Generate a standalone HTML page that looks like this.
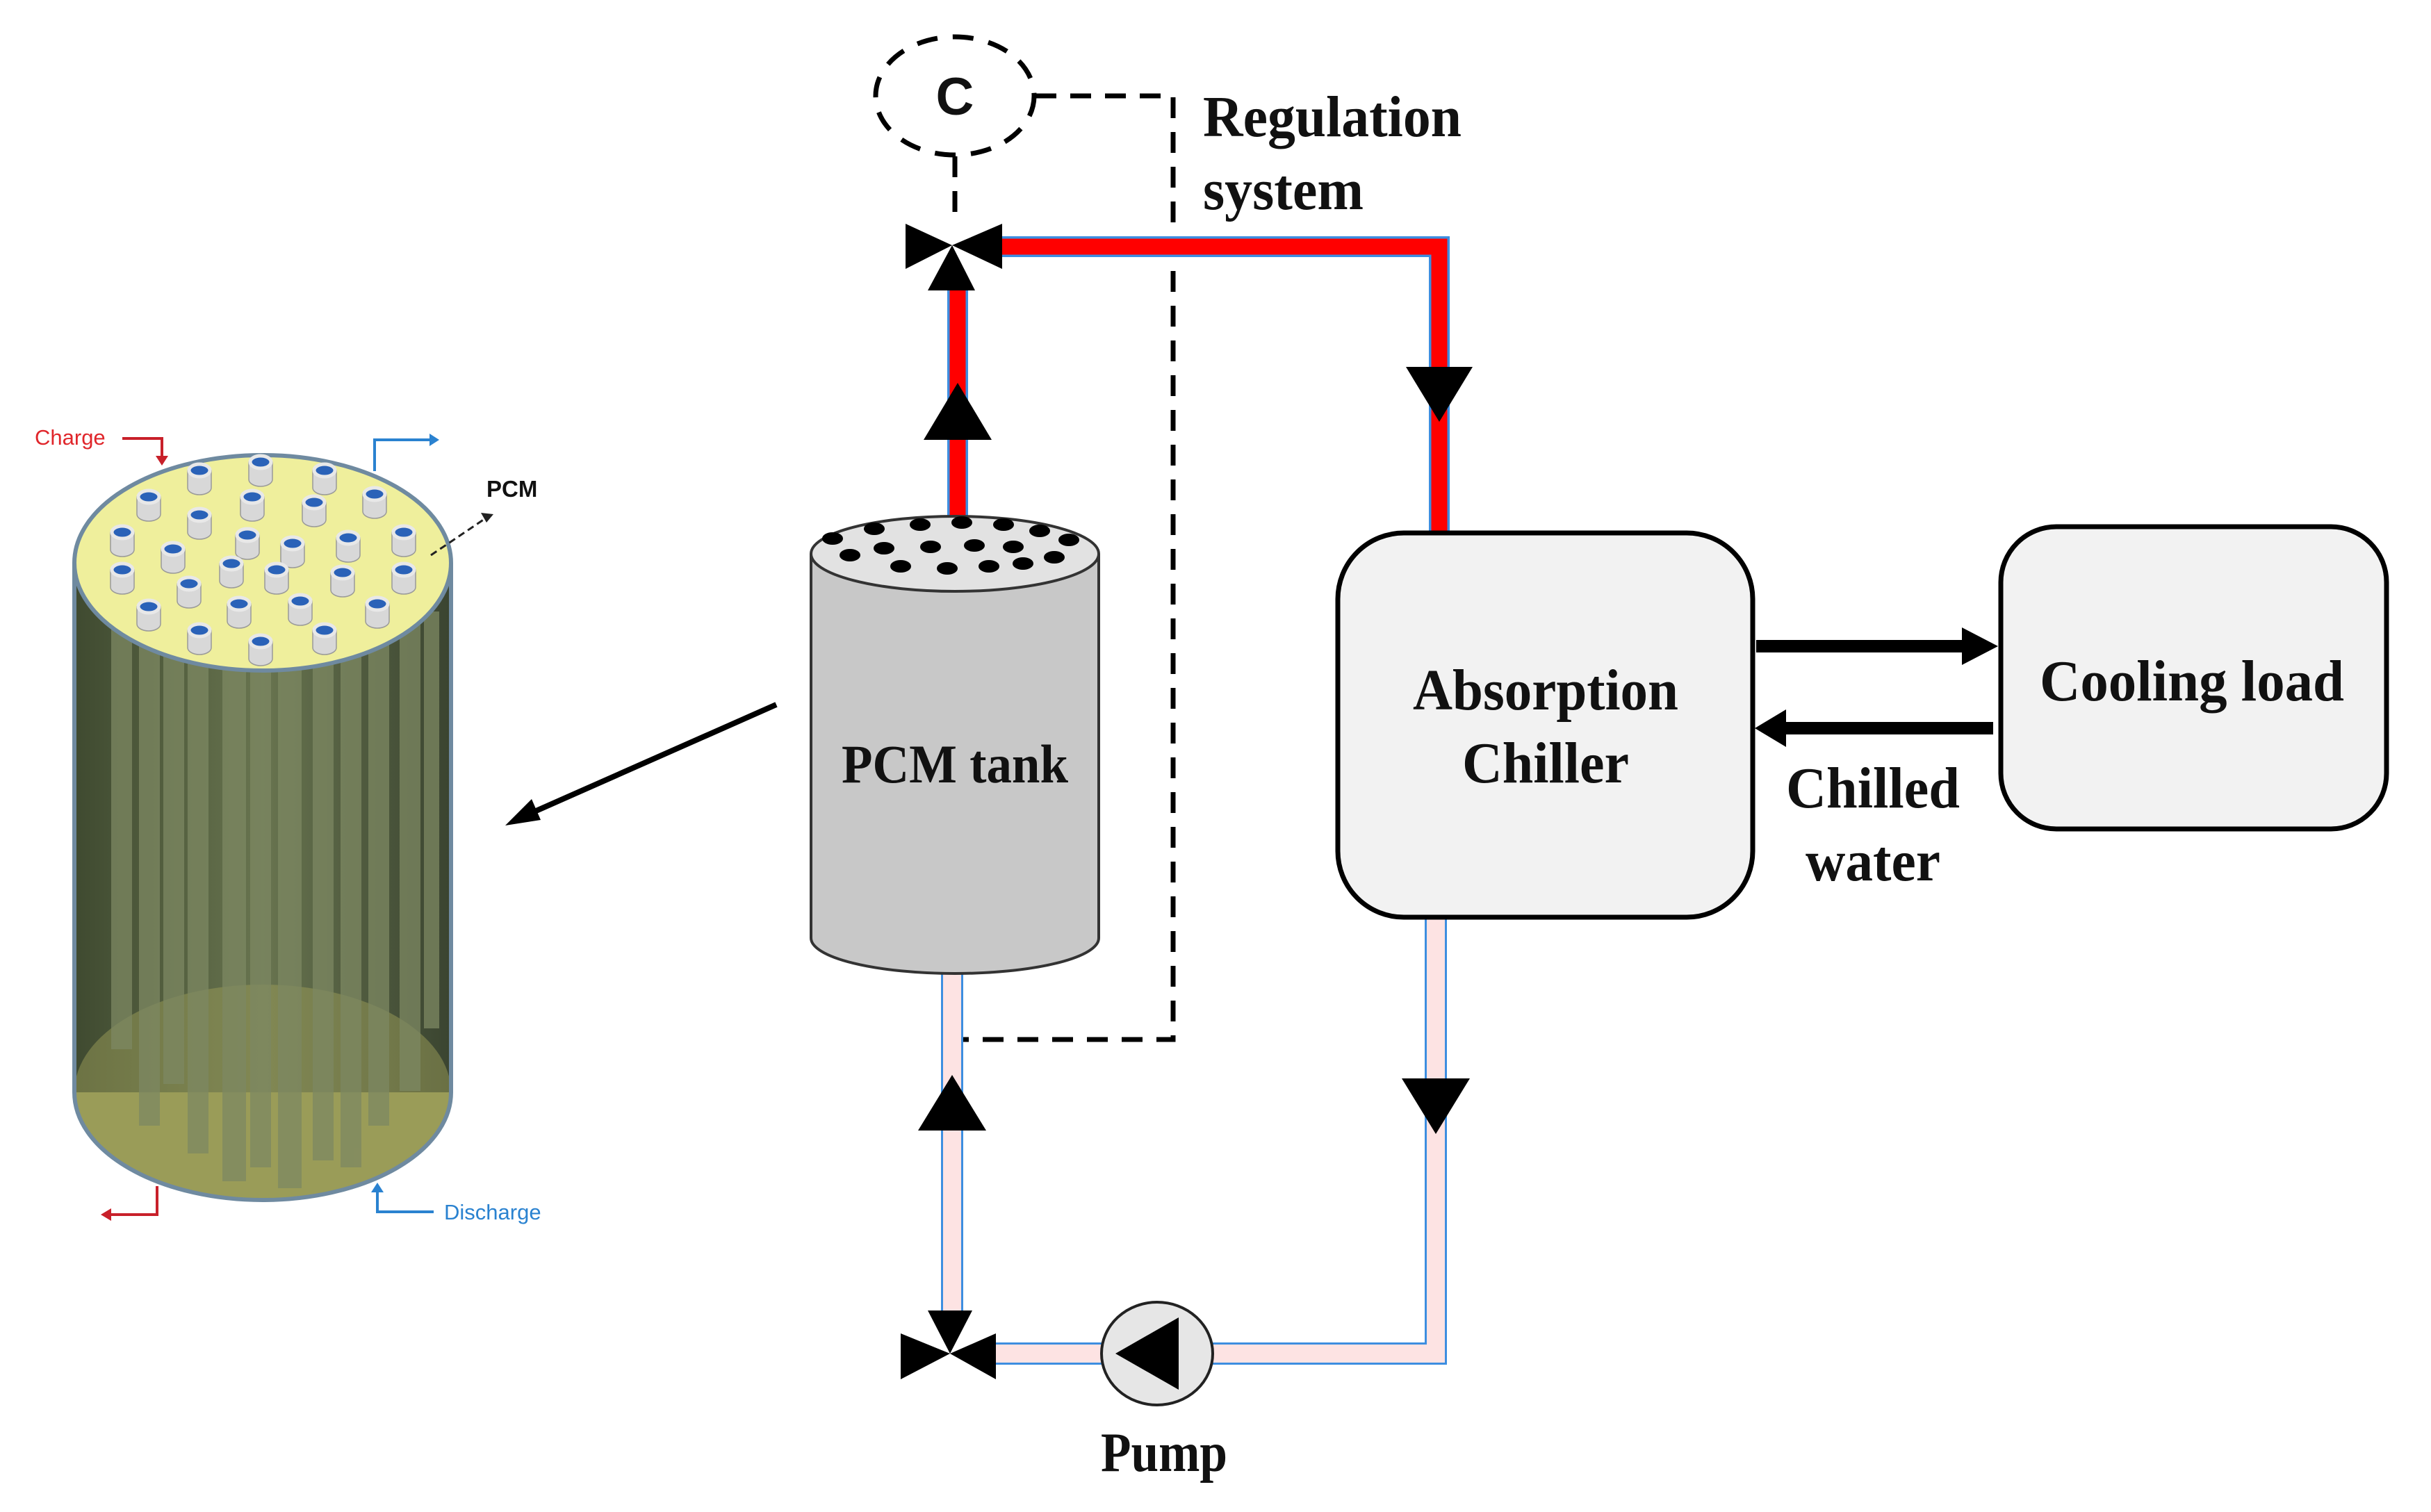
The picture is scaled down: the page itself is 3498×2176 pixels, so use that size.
<!DOCTYPE html>
<html><head><meta charset="utf-8"><style>
html,body{margin:0;padding:0;background:#fff;}
svg{display:block;}
.t{font-family:"Liberation Serif",serif;font-weight:bold;fill:#111;}
.s{font-family:"Liberation Sans",sans-serif;}
</style></head><body>
<svg width="3498" height="2176" viewBox="0 0 3498 2176" xmlns="http://www.w3.org/2000/svg">
<defs>
<linearGradient id="body" x1="0" x2="1" y1="0" y2="0">
<stop offset="0" stop-color="#3f4a30"/><stop offset="0.5" stop-color="#68744f"/><stop offset="1" stop-color="#3a4430"/>
</linearGradient>
</defs>
<!-- Left 3D cylinder -->
<g>
<rect x="107" y="810" width="543" height="762" fill="url(#body)"/>
<ellipse cx="378" cy="1572" rx="271" ry="155" fill="#9a9c58"/>
<rect x="107" y="810" width="543" height="762" fill="url(#body)" opacity="0.5"/>
<g fill="#7d8862" opacity="0.75">
<rect x="160" y="810" width="30" height="700"/><rect x="200" y="830" width="30" height="790"/>
<rect x="235" y="860" width="30" height="700"/><rect x="270" y="800" width="30" height="860"/>
<rect x="320" y="800" width="34" height="900"/><rect x="360" y="820" width="30" height="860"/>
<rect x="400" y="800" width="34" height="910"/><rect x="450" y="810" width="30" height="860"/>
<rect x="490" y="860" width="30" height="820"/><rect x="530" y="820" width="30" height="800"/>
<rect x="575" y="830" width="30" height="740"/><rect x="610" y="880" width="22" height="600"/>
</g>
<path d="M107 810 L107 1572 A271 155 0 0 0 649 1572 L649 810" fill="none" stroke="#6f8aa0" stroke-width="6"/>
<ellipse cx="378" cy="810" rx="271" ry="155" fill="#efef9c" stroke="#6f8aa0" stroke-width="6"/>
</g>
<g fill="#d8d8d8" stroke="#999" stroke-width="1.5">
<path d="M270 677 v25 a17 10 0 0 0 34 0 v-25z"/><path d="M358 665 v25 a17 10 0 0 0 34 0 v-25z"/><path d="M450 677 v25 a17 10 0 0 0 34 0 v-25z"/>
<path d="M197 715 v25 a17 10 0 0 0 34 0 v-25z"/><path d="M346 715 v25 a17 10 0 0 0 34 0 v-25z"/><path d="M435 723 v25 a17 10 0 0 0 34 0 v-25z"/><path d="M522 711 v25 a17 10 0 0 0 34 0 v-25z"/>
<path d="M270 741 v25 a17 10 0 0 0 34 0 v-25z"/><path d="M159 766 v25 a17 10 0 0 0 34 0 v-25z"/><path d="M232 790 v25 a17 10 0 0 0 34 0 v-25z"/><path d="M339 770 v25 a17 10 0 0 0 34 0 v-25z"/><path d="M404 782 v25 a17 10 0 0 0 34 0 v-25z"/><path d="M484 774 v25 a17 10 0 0 0 34 0 v-25z"/><path d="M564 766 v25 a17 10 0 0 0 34 0 v-25z"/>
<path d="M159 820 v25 a17 10 0 0 0 34 0 v-25z"/><path d="M316 811 v25 a17 10 0 0 0 34 0 v-25z"/><path d="M381 820 v25 a17 10 0 0 0 34 0 v-25z"/><path d="M476 824 v25 a17 10 0 0 0 34 0 v-25z"/><path d="M564 820 v25 a17 10 0 0 0 34 0 v-25z"/>
<path d="M255 840 v25 a17 10 0 0 0 34 0 v-25z"/><path d="M197 873 v25 a17 10 0 0 0 34 0 v-25z"/><path d="M327 869 v25 a17 10 0 0 0 34 0 v-25z"/><path d="M415 865 v25 a17 10 0 0 0 34 0 v-25z"/><path d="M526 869 v25 a17 10 0 0 0 34 0 v-25z"/>
<path d="M270 907 v25 a17 10 0 0 0 34 0 v-25z"/><path d="M358 923 v25 a17 10 0 0 0 34 0 v-25z"/><path d="M450 907 v25 a17 10 0 0 0 34 0 v-25z"/>
</g>
<g fill="#2a62b8" stroke="#e8e8e8" stroke-width="5">
<ellipse cx="287" cy="677" rx="15" ry="9"/><ellipse cx="375" cy="665" rx="15" ry="9"/><ellipse cx="467" cy="677" rx="15" ry="9"/>
<ellipse cx="214" cy="715" rx="15" ry="9"/><ellipse cx="363" cy="715" rx="15" ry="9"/><ellipse cx="452" cy="723" rx="15" ry="9"/><ellipse cx="539" cy="711" rx="15" ry="9"/>
<ellipse cx="287" cy="741" rx="15" ry="9"/><ellipse cx="176" cy="766" rx="15" ry="9"/><ellipse cx="249" cy="790" rx="15" ry="9"/><ellipse cx="356" cy="770" rx="15" ry="9"/><ellipse cx="421" cy="782" rx="15" ry="9"/><ellipse cx="501" cy="774" rx="15" ry="9"/><ellipse cx="581" cy="766" rx="15" ry="9"/>
<ellipse cx="176" cy="820" rx="15" ry="9"/><ellipse cx="333" cy="811" rx="15" ry="9"/><ellipse cx="398" cy="820" rx="15" ry="9"/><ellipse cx="493" cy="824" rx="15" ry="9"/><ellipse cx="581" cy="820" rx="15" ry="9"/>
<ellipse cx="272" cy="840" rx="15" ry="9"/><ellipse cx="214" cy="873" rx="15" ry="9"/><ellipse cx="344" cy="869" rx="15" ry="9"/><ellipse cx="432" cy="865" rx="15" ry="9"/><ellipse cx="543" cy="869" rx="15" ry="9"/>
<ellipse cx="287" cy="907" rx="15" ry="9"/><ellipse cx="375" cy="923" rx="15" ry="9"/><ellipse cx="467" cy="907" rx="15" ry="9"/>
</g>
<!-- left labels & arrows -->
<text x="50" y="640" class="s" font-size="31" fill="#e0262b">Charge</text>
<path d="M176 631 H233 V660" fill="none" stroke="#c8202a" stroke-width="4"/><path d="M224 656 L233 670 L242 656Z" fill="#c8202a"/>
<path d="M539 678 V633 H622" fill="none" stroke="#2a82d0" stroke-width="4"/><path d="M618 624 L632 633 L618 642Z" fill="#2a82d0"/>
<text x="700" y="715" class="s" font-size="33" font-weight="bold" fill="#111">PCM</text>
<path d="M620 799 L700 745" stroke="#222" stroke-width="3" stroke-dasharray="10 6"/><path d="M692 738 L710 740 L700 752Z" fill="#222"/>
<path d="M226 1707 V1748 H155" fill="none" stroke="#c8202a" stroke-width="4"/><path d="M160 1739 L145 1748 L160 1757Z" fill="#c8202a"/>
<path d="M624 1744 H543 V1713" fill="none" stroke="#2a82d0" stroke-width="4"/><path d="M534 1716 L543 1702 L552 1716Z" fill="#2a82d0"/>
<text x="639" y="1755" class="s" font-size="31" fill="#2a82d0">Discharge</text>
<!-- big arrow -->
<path d="M1117 1014 L760 1172" stroke="#000" stroke-width="8"/>
<path d="M727 1188 L765 1150 L778 1180Z" fill="#000"/>

<!-- dashed regulation -->
<ellipse cx="1374" cy="138" rx="114" ry="85" fill="none" stroke="#000" stroke-width="7" stroke-dasharray="30 22"/>
<text x="1374" y="165" class="s" font-weight="bold" font-size="76" text-anchor="middle" fill="#111">C</text>
<path d="M1374 225 V320" stroke="#000" stroke-width="7" stroke-dasharray="30 20"/>
<path d="M1490 138 H1688 V1496 H1374" fill="none" stroke="#000" stroke-width="7" stroke-dasharray="30 20"/>
<text x="1731" y="196" class="t" font-size="84" textLength="372" lengthAdjust="spacingAndGlyphs">Regulation</text>
<text x="1731" y="301" class="t" font-size="84" textLength="231" lengthAdjust="spacingAndGlyphs">system</text>

<!-- red pipes -->
<path d="M1378 797 V418 M1442 355 H2071 V767" fill="none" stroke="#3d8ee0" stroke-width="30"/>
<path d="M1378 797 V418 M1442 355 H2071 V767" fill="none" stroke="#ff0000" stroke-width="23"/>
<!-- pale pipes -->
<path d="M1370 1401 V1886 M1433 1948 H2066 V1321" fill="none" stroke="#3d8ee0" stroke-width="32"/>
<path d="M1370 1401 V1886 M1433 1948 H2066 V1321" fill="none" stroke="#fde3e3" stroke-width="26"/>

<!-- top valve -->
<path d="M1303 322 L1370 353 L1303 387Z M1442 322 L1370 353 L1442 387Z M1335 418 L1370 353 L1403 418Z" fill="#000"/>
<!-- arrows on pipes -->
<path d="M1378 551 L1427 633 L1329 633Z" fill="#000"/>
<path d="M2023 528 L2119 528 L2071 607Z" fill="#000"/>
<path d="M1370 1547 L1419 1627 L1321 1627Z" fill="#000"/>
<path d="M2017 1552 L2115 1552 L2066 1632Z" fill="#000"/>
<!-- bottom valve -->
<path d="M1296 1919 L1367 1948 L1296 1985Z M1433 1919 L1367 1948 L1433 1985Z M1335 1886 L1399 1886 L1367 1948Z" fill="#000"/>
<!-- pump -->
<ellipse cx="1665" cy="1948" rx="80" ry="74" fill="#e6e6e6" stroke="#222" stroke-width="4"/>
<path d="M1605 1948 L1696 1896 L1696 2000Z" fill="#000"/>
<text x="1675" y="2117" class="t" font-size="80" text-anchor="middle" textLength="182" lengthAdjust="spacingAndGlyphs">Pump</text>

<!-- PCM tank -->
<path d="M1167 797 V1350 A207 51 0 0 0 1581 1350 V797" fill="#c8c8c8" stroke="#333" stroke-width="4"/>
<ellipse cx="1374" cy="797" rx="207" ry="54" fill="#e2e2e2" stroke="#333" stroke-width="4"/>
<g fill="#000">
<ellipse cx="1198" cy="775" rx="15" ry="9"/><ellipse cx="1258" cy="761" rx="15" ry="9"/><ellipse cx="1324" cy="755" rx="15" ry="9"/><ellipse cx="1384" cy="752" rx="15" ry="9"/><ellipse cx="1444" cy="755" rx="15" ry="9"/><ellipse cx="1496" cy="764" rx="15" ry="9"/><ellipse cx="1538" cy="777" rx="15" ry="9"/>
<ellipse cx="1223" cy="799" rx="15" ry="9"/><ellipse cx="1272" cy="789" rx="15" ry="9"/><ellipse cx="1339" cy="787" rx="15" ry="9"/><ellipse cx="1402" cy="785" rx="15" ry="9"/><ellipse cx="1458" cy="787" rx="15" ry="9"/><ellipse cx="1517" cy="802" rx="15" ry="9"/>
<ellipse cx="1296" cy="815" rx="15" ry="9"/><ellipse cx="1363" cy="818" rx="15" ry="9"/><ellipse cx="1423" cy="815" rx="15" ry="9"/><ellipse cx="1472" cy="811" rx="15" ry="9"/>
</g>
<text x="1374" y="1126" class="t" font-size="78" text-anchor="middle" textLength="326" lengthAdjust="spacingAndGlyphs">PCM tank</text>

<!-- Chiller -->
<rect x="1925" y="767" width="597" height="553" rx="95" fill="#f2f2f2" stroke="#000" stroke-width="7"/>
<text x="2224" y="1021" class="t" font-size="84" text-anchor="middle" textLength="382" lengthAdjust="spacingAndGlyphs">Absorption</text>
<text x="2224" y="1126" class="t" font-size="84" text-anchor="middle" textLength="240" lengthAdjust="spacingAndGlyphs">Chiller</text>
<!-- Cooling load -->
<rect x="2879" y="758" width="555" height="435" rx="80" fill="#f2f2f2" stroke="#000" stroke-width="7"/>
<text x="3154" y="1008" class="t" font-size="84" text-anchor="middle" textLength="438" lengthAdjust="spacingAndGlyphs">Cooling load</text>
<!-- arrows -->
<path d="M2527 930 H2830" stroke="#000" stroke-width="18"/><path d="M2823 903 L2875 930 L2823 957Z" fill="#000"/>
<path d="M2868 1048 H2565" stroke="#000" stroke-width="18"/><path d="M2570 1021 L2525 1048 L2570 1075Z" fill="#000"/>
<text x="2695" y="1162" class="t" font-size="84" text-anchor="middle" textLength="250" lengthAdjust="spacingAndGlyphs">Chilled</text>
<text x="2695" y="1267" class="t" font-size="84" text-anchor="middle" textLength="194" lengthAdjust="spacingAndGlyphs">water</text>
</svg>
</body></html>
